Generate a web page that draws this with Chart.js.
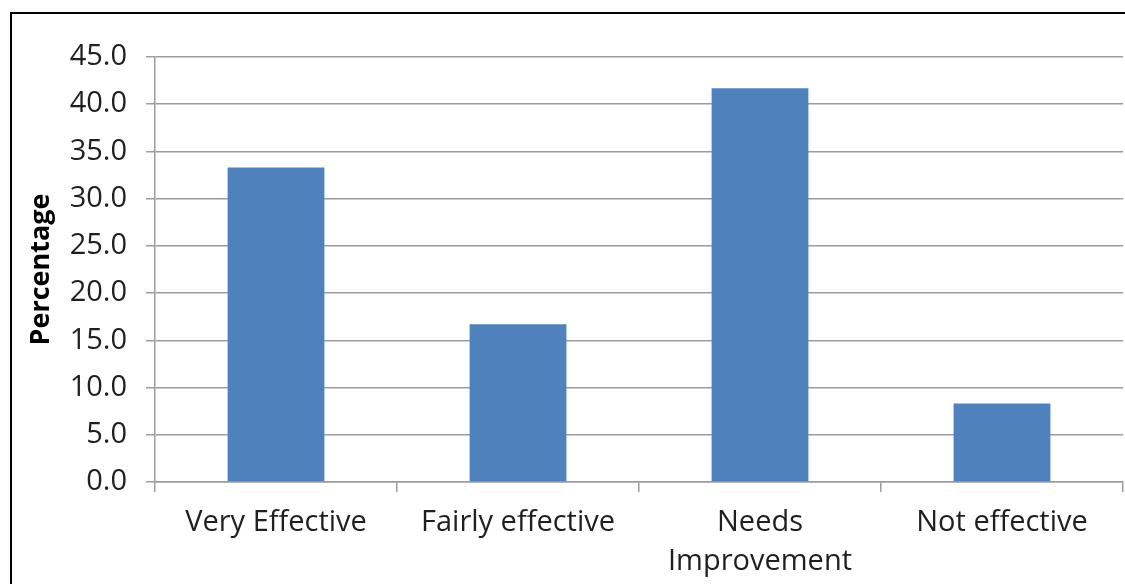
<!DOCTYPE html>
<html>
<head>
<meta charset="utf-8">
<script src="https://cdn.jsdelivr.net/npm/chart.js@4/dist/chart.umd.min.js"></script>
<style>
  html, body { margin: 0; padding: 0; background: #fff; overflow: hidden; }
  #wrap { width: 1125px; height: 584px; position: relative; }
</style>
</head>
<body>
<div id="wrap"><canvas id="chart"></canvas></div>
<script>
const categories = ['Very Effective', 'Fairly effective', ['Needs', 'Improvement'], 'Not effective'];
const percentages = [33.3, 16.7, 41.7, 8.3];
const yTicks = { min: 0, max: 45, step: 5 };

const gridColor = '#9c9c9c';
const textColor = '#1f1f1f';

// outer frame of the chart object (runs off the right and bottom edge)
const framePlugin = {
  id: 'frame',
  beforeDraw(chart) {
    const ctx = chart.ctx;
    ctx.save();
    ctx.strokeStyle = '#000';
    ctx.lineWidth = 2;
    ctx.beginPath();
    ctx.moveTo(11, chart.height + 5);
    ctx.lineTo(11, 13);
    ctx.lineTo(chart.width + 5, 13);
    ctx.stroke();
    ctx.restore();
  }
};

const ctx = document.getElementById('chart').getContext('2d');
new Chart(ctx, {
  type: 'bar',
  data: {
    labels: categories,
    datasets: [{
      label: 'Percentage',
      data: percentages,
      backgroundColor: '#4f81bd',
      borderWidth: 0,
      categoryPercentage: 0.8,
      barPercentage: 0.5
    }]
  },
  options: {
    responsive: true,
    maintainAspectRatio: false,
    animation: false,
    layout: { padding: { left: 0, top: 57, right: 2, bottom: 0 } },
    plugins: {
      legend: { display: false },
      tooltip: { enabled: false }
    },
    scales: {
      x: {
        afterFit(scale) { scale.height = 102; },
        grid: {
          offset: true,
          drawOnChartArea: false,
          drawTicks: true,
          tickLength: 10,
          color: gridColor,
          lineWidth: 1.5
        },
        border: { display: true, color: gridColor, width: 1.5 },
        ticks: {
          color: textColor,
          padding: 11,
          maxRotation: 0,
          autoSkip: false,
          font: { family: '"Open Sans"', size: 29, lineHeight: 1.35 }
        }
      },
      y: {
        min: yTicks.min,
        max: yTicks.max,
        afterFit(scale) { scale.width = 155; },
        grid: {
          color: gridColor,
          lineWidth: 1.5,
          drawTicks: true,
          tickLength: 9
        },
        border: { display: true, color: gridColor, width: 1.5 },
        ticks: {
          stepSize: yTicks.step,
          color: textColor,
          padding: 19,
          font: { family: '"Open Sans"', size: 29 },
          callback: v => v.toFixed(1)
        },
        title: {
          display: true,
          text: 'Percentage',
          color: '#000',
          padding: 25,
          font: { family: '"Open Sans"', size: 27, weight: 'bold', lineHeight: 1.2 }
        }
      }
    }
  },
  plugins: [framePlugin]
});
</script>
</body>
</html>
